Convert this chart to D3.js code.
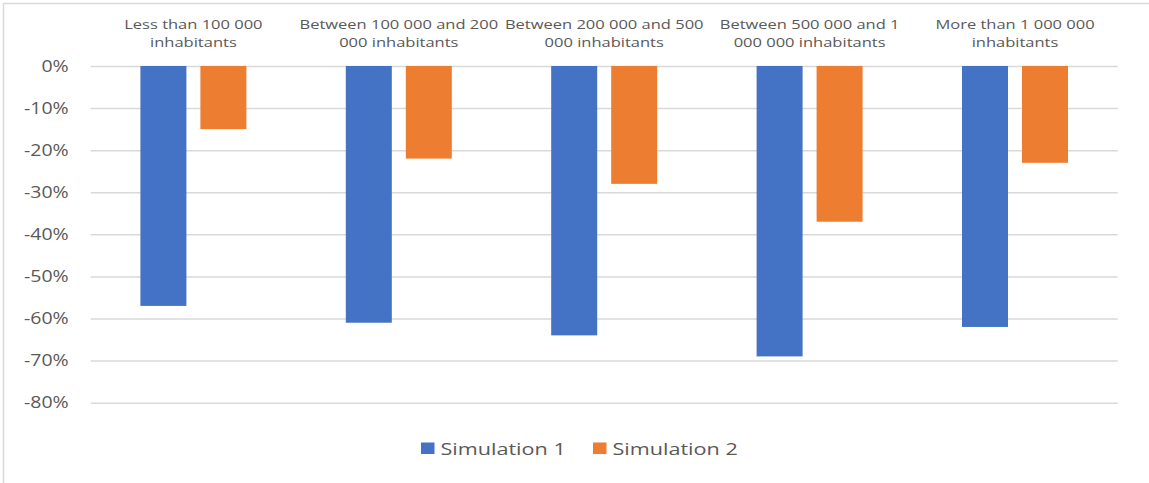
<!DOCTYPE html>
<html>
<head>
<meta charset="utf-8">
<script src="https://cdn.jsdelivr.net/npm/d3@7"></script>
<style>
  html, body { margin: 0; padding: 0; background: #fff; }
  svg { display: block; font-family: "Open Sans", "Noto Sans", sans-serif; }
</style>
</head>
<body>
<svg id="chart" width="1149" height="483"></svg>
<script>
// Population-size groups, drawn as wrapped two-line headers above the bars
const categories = [
  "Less than 100 000 inhabitants",
  "Between 100 000 and 200 000 inhabitants",
  "Between 200 000 and 500 000 inhabitants",
  "Between 500 000 and 1 000 000 inhabitants",
  "More than 1 000 000 inhabitants"
];
const categoryLines = [
  ["Less than 100 000", "inhabitants"],
  ["Between 100 000 and 200", "000 inhabitants"],
  ["Between 200 000 and 500", "000 inhabitants"],
  ["Between 500 000 and 1", "000 000 inhabitants"],
  ["More than 1 000 000", "inhabitants"]
];
const seriesNames = ["Simulation 1", "Simulation 2"];
const simulation1 = [-0.57, -0.61, -0.64, -0.69, -0.62];
const simulation2 = [-0.15, -0.22, -0.28, -0.37, -0.23];
const yTicks = [0, -0.1, -0.2, -0.3, -0.4, -0.5, -0.6, -0.7, -0.8];
const colors = ["#4472C4", "#ED7D31"];

// the chart's lettering is drawn slightly widened
const STRETCH = 1.27;

const svg = d3.select("#chart");

// chart frame
svg.append("path")
  .attr("d", "M3.5,483 V3.5 H1149")
  .attr("fill", "none")
  .attr("stroke", "#D9D9D9")
  .attr("stroke-width", 1.5);

const plot = { left: 90.7, right: 1117.7, top: 66, bottom: 402.7 };

const y = d3.scaleLinear().domain([0, -0.8]).range([plot.top, plot.bottom]);
const x0 = d3.scaleBand().domain(categories).range([plot.left, plot.right]);
const x1 = d3.scaleBand().domain(seriesNames).range([-53, 53]).paddingInner(14 / 60);

// horizontal gridlines with percentage labels
const yAxis = d3.axisLeft(y)
  .tickValues(yTicks)
  .tickSize(-(plot.right - plot.left))
  .tickPadding(22)
  .tickFormat(d3.format(".0%"));

const gAxis = svg.append("g")
  .attr("transform", `translate(${plot.left},0)`)
  .call(yAxis);
gAxis.select(".domain").remove();
gAxis.selectAll(".tick line")
  .attr("stroke", "#D9D9D9")
  .attr("stroke-width", 1.5);
gAxis.selectAll(".tick text")
  .attr("fill", "#595959")
  .attr("x", 0)
  .attr("transform", "translate(-22,0) scale(1.22,1)")
  .style("font-size", "16px")
  .style("font-family", "'Open Sans', sans-serif")
  .text(d => d3.format(".0%")(d).replace("−", "-"));

// grouped bars
const data = categories.map((c, i) => ({ cat: c, values: [simulation1[i], simulation2[i]] }));

const groups = svg.append("g").selectAll("g")
  .data(data)
  .join("g")
  .attr("transform", d => `translate(${x0(d.cat) + x0.bandwidth() / 2},0)`);

groups.selectAll("rect")
  .data(d => d.values.map((v, j) => ({ key: seriesNames[j], v, j })))
  .join("rect")
  .attr("x", d => x1(d.key))
  .attr("width", x1.bandwidth())
  .attr("y", y(0))
  .attr("height", d => y(d.v) - y(0))
  .attr("fill", d => colors[d.j]);

// category headers
const headers = svg.append("g").selectAll("text")
  .data(categories)
  .join("text")
  .attr("text-anchor", "middle")
  .attr("fill", "#595959")
  .style("font-size", "13px")
  .attr("transform", d => `translate(${x0(d) + x0.bandwidth() / 2},29) scale(${STRETCH},1)`);

headers.selectAll("tspan")
  .data((d, i) => categoryLines[i])
  .join("tspan")
  .attr("x", 0)
  .attr("dy", (d, k) => k === 0 ? 0 : 18.5)
  .text(d => d);

// legend
const legend = svg.append("g");
const legendItems = legend.selectAll("g")
  .data(seriesNames)
  .join("g")
  .attr("transform", (d, i) => `translate(${[421, 593][i]},0)`);

legendItems.append("rect")
  .attr("x", 0)
  .attr("y", 442.5)
  .attr("width", 13.5)
  .attr("height", 11.5)
  .attr("fill", (d, i) => colors[i]);

legendItems.append("text")
  .attr("transform", `translate(19.5,454.5) scale(${STRETCH},1)`)
  .attr("fill", "#595959")
  .style("font-size", "17px")
  .text(d => d);
</script>
</body>
</html>
